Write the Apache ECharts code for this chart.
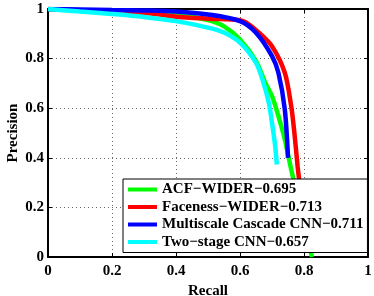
<!DOCTYPE html>
<html>
<head>
<meta charset="utf-8">
<script src="https://cdn.jsdelivr.net/npm/echarts@6/dist/echarts.min.js"></script>
<style>html,body{margin:0;padding:0;background:#fff}#c{width:374px;height:296px}</style>
</head>
<body>
<div id="c"></div>
<script>
const seriesNames = ["ACF\u2212WIDER\u22120.695", "Faceness\u2212WIDER\u22120.713", "Multiscale Cascade CNN\u22120.711", "Two\u2212stage CNN\u22120.657"];
const colors = ["#00ff00", "#ff0000", "#0000ff", "#00ffff"];
const tickValues = [0, 0.2, 0.4, 0.6, 0.8, 1];

const acfRecall = [0, 0.1, 0.2, 0.3, 0.4, 0.5, 0.55, 0.6, 0.65, 0.68, 0.7, 0.72, 0.74, 0.76, 0.78, 0.8, 0.825];
const acfPrecision = [1, 0.995, 0.99, 0.985, 0.978, 0.955, 0.93, 0.877, 0.79, 0.70, 0.649, 0.568, 0.474, 0.353, 0.245, 0.125, 0];

const facRecall = [0, 0.1, 0.2, 0.3, 0.4, 0.5, 0.6, 0.62, 0.66, 0.7, 0.74, 0.76, 0.77, 0.78, 0.785];
const facPrecision = [1, 0.995, 0.99, 0.985, 0.969, 0.961, 0.955, 0.945, 0.904, 0.85, 0.743, 0.608, 0.5, 0.366, 0.31];

const mscRecall = [0, 0.1, 0.2, 0.3, 0.4, 0.5, 0.6, 0.65, 0.7, 0.72, 0.74, 0.75];
const mscPrecision = [1, 0.998, 0.996, 0.994, 0.99, 0.978, 0.951, 0.904, 0.81, 0.743, 0.595, 0.40];

const twoRecall = [0, 0.1, 0.2, 0.3, 0.4, 0.5, 0.55, 0.6, 0.65, 0.67, 0.69, 0.70, 0.71, 0.715];
const twoPrecision = [1, 0.99, 0.98, 0.968, 0.951, 0.925, 0.905, 0.864, 0.783, 0.716, 0.622, 0.541, 0.447, 0.373];

const recalls = [acfRecall, facRecall, mscRecall, twoRecall];
const precisions = [acfPrecision, facPrecision, mscPrecision, twoPrecision];

const FONT = '"Liberation Serif", "Times New Roman", "DejaVu Serif", serif';
const labelStyle = {fontFamily: FONT, fontWeight: 'bold', fontSize: 15, color: '#000'};
const fmt = v => String(+v.toFixed(1));

const chart = echarts.init(document.getElementById('c'), null, {renderer: 'canvas'});

function mainAxis(extra) {
  return Object.assign({
    type: 'value', min: 0, max: 1, interval: 0.2,
    axisLine: {show: true, onZero: false, lineStyle: {color: '#000', width: 2}},
    axisTick: {show: true, inside: true, length: 4, lineStyle: {color: '#000', width: 1}},
    splitLine: {show: true, lineStyle: {color: '#666', type: [1, 3], width: 1}},
    nameTextStyle: labelStyle,
    nameLocation: 'middle'
  }, extra);
}
function mirrorAxis(pos) {
  return {
    type: 'value', min: 0, max: 1, interval: 0.2, position: pos,
    axisLine: {show: true, onZero: false, lineStyle: {color: '#000', width: 2}},
    axisTick: {show: true, inside: true, length: 4, lineStyle: {color: '#000', width: 1}},
    splitLine: {show: false}, axisLabel: {show: false}
  };
}

chart.setOption({
  animation: false,
  backgroundColor: '#fff',
  grid: {left: 48, right: 6, top: 9, bottom: 39, containLabel: false, outerBoundsMode: 'none'},
  xAxis: [
    mainAxis({position: 'bottom', name: 'Recall', nameGap: 22, axisLabel: Object.assign({margin: 7, formatter: fmt}, labelStyle)}),
    mirrorAxis('top')
  ],
  yAxis: [
    mainAxis({position: 'left', name: 'Precision', nameGap: 27, nameRotate: 90, nameMoveOverlap: false, axisLabel: Object.assign({margin: 4, formatter: fmt}, labelStyle)}),
    mirrorAxis('right')
  ],
  legend: {
    data: seriesNames,
    orient: 'vertical',
    left: 123, top: 179,
    padding: [3, 4, 3, 5],
    itemGap: 2.5,
    itemWidth: 29, itemHeight: 4,
    icon: 'rect',
    selectedMode: false,
    backgroundColor: '#fff',
    borderColor: '#000', borderWidth: 1, borderRadius: 0,
    textStyle: Object.assign({}, labelStyle, {padding: [0, 0, 0, 0]})
  },
  series: seriesNames.map((name, i) => ({
    name: name,
    type: 'line',
    xAxisIndex: 0, yAxisIndex: 0,
    data: recalls[i].map((r, j) => [r, precisions[i][j]]),
    showSymbol: false, symbol: 'none',
    smooth: 0.3,
    lineStyle: {color: colors[i], width: 4.5},
    itemStyle: {color: colors[i]},
    clip: true
  }))
});
</script>
</body>
</html>
